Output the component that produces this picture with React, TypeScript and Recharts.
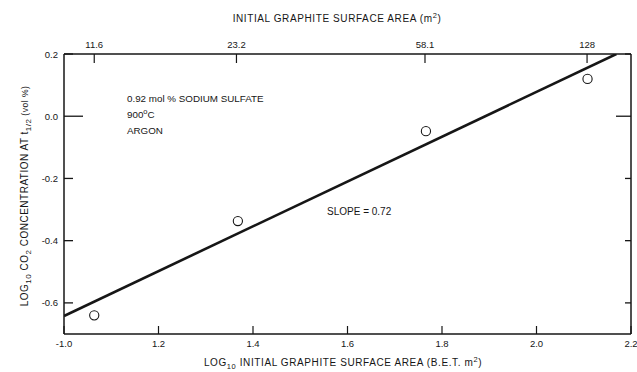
import { ComposedChart, XAxis, YAxis, Line, Scatter } from 'recharts'

// log10 of initial graphite area (x) vs log10 CO2 concentration at t1/2 (y)
const areaLogs = [1.064, 1.368, 1.766, 2.108]
const co2Logs = [-0.64, -0.337, -0.048, 0.12]

// fitted line, slope 0.72
const fitLogs = [1.0, 2.169]
const fitCo2 = [-0.642, 0.2]

const bottomTicks = [1.0, 1.2, 1.4, 1.6, 1.8, 2.0, 2.2]
const bottomLabels = ['-1.0', '1.2', '1.4', '1.6', '1.8', '2.0', '2.2']
const topTickPos = [1.064, 1.365, 1.764, 2.107]
const topLabels = ['11.6', '23.2', '58.1', '128']
const yTicks = [0.2, 0.0, -0.2, -0.4, -0.6]
const yLabels = ['0.2', '0.0', '-0.2', '-0.4', '-0.6']

const points = areaLogs.map((x, i) => ({ x, y: co2Logs[i] }))
const fit = fitLogs.map((x, i) => ({ x, y: fitCo2[i] }))

const INK = '#161616'
const FONT = '"Liberation Sans", Arial, sans-serif'

const BottomTick = ({ x, y, index }: any) => (
    <g>
        <line x1={x} x2={x} y1={y} y2={y - 8} stroke={INK} strokeWidth={1.2} />
        <text x={x} y={y + 13} textAnchor="middle" fontSize={9.5} fill={INK} fontFamily={FONT}>
            {bottomLabels[index]}
        </text>
    </g>
)

const TopTick = ({ x, y, index }: any) => (
    <g>
        <line x1={x} x2={x} y1={y} y2={y + 9} stroke={INK} strokeWidth={1.2} />
        <text x={x} y={y - 6} textAnchor="middle" fontSize={9.5} fill={INK} fontFamily={FONT}>
            {topLabels[index]}
        </text>
    </g>
)

const LeftTick = ({ x, y, index }: any) => (
    <g>
        <line x1={x} x2={x + (yTicks[index] === 0 ? 19 : 9)} y1={y} y2={y} stroke={INK} strokeWidth={1.3} />
        <text x={x - 6} y={y + 3.5} textAnchor="end" fontSize={9.5} fill={INK} fontFamily={FONT}>
            {yLabels[index]}
        </text>
    </g>
)

const RightTick = ({ x, y, index }: any) => (
    <line x1={x} x2={x - (yTicks[index] === 0 ? 15 : 6)} y1={y} y2={y} stroke={INK} strokeWidth={1.3} />
)

const circle = (props: any) => (
    <circle cx={props.cx} cy={props.cy} r={4.6} fill="#fff" stroke={INK} strokeWidth={1.1} />
)

const axisLine = { stroke: INK, strokeWidth: 1.5 }

export default function App() {
    return (
        <div style={{ position: 'absolute', left: 0, top: 0, width: 637, height: 372, background: '#fff' }}>
            <ComposedChart width={637} height={372} margin={{ top: 24, right: 0, bottom: 8, left: 14 }}>
                <XAxis
                    xAxisId="bottom"
                    dataKey="x"
                    type="number"
                    domain={[1.0, 2.2]}
                    ticks={bottomTicks}
                    allowDataOverflow
                    height={30}
                    tickSize={0}
                    tickMargin={0}
                    tickLine={false}
                    axisLine={axisLine}
                    tick={BottomTick}
                    interval={0}
                />
                <XAxis
                    xAxisId="top"
                    orientation="top"
                    dataKey="x"
                    type="number"
                    domain={[1.0, 2.2]}
                    ticks={topTickPos}
                    allowDataOverflow
                    height={30}
                    tickSize={0}
                    tickMargin={0}
                    tickLine={false}
                    axisLine={axisLine}
                    tick={TopTick}
                    interval={0}
                />
                <YAxis
                    yAxisId="left"
                    type="number"
                    domain={[-0.7, 0.2]}
                    ticks={yTicks}
                    allowDataOverflow
                    width={50}
                    tickSize={0}
                    tickMargin={0}
                    tickLine={false}
                    axisLine={axisLine}
                    tick={LeftTick}
                    interval={0}
                />
                <YAxis
                    yAxisId="right"
                    orientation="right"
                    type="number"
                    domain={[-0.7, 0.2]}
                    ticks={yTicks}
                    allowDataOverflow
                    width={6}
                    tickSize={0}
                    tickMargin={0}
                    tickLine={false}
                    axisLine={axisLine}
                    tick={RightTick}
                    interval={0}
                />
                <Line
                    xAxisId="bottom"
                    yAxisId="left"
                    data={fit}
                    dataKey="y"
                    type="linear"
                    stroke={INK}
                    strokeWidth={2.6}
                    dot={false}
                    activeDot={false}
                    isAnimationActive={false}
                />
                <Scatter
                    xAxisId="bottom"
                    yAxisId="left"
                    data={points}
                    dataKey="y"
                    shape={circle}
                    isAnimationActive={false}
                />
            </ComposedChart>
            <svg
                width={637}
                height={372}
                style={{ position: 'absolute', left: 0, top: 0, pointerEvents: 'none' }}
                fontFamily={FONT}
                fill={INK}
            >
                <text x={337} y={22} textAnchor="middle" fontSize={10} letterSpacing={0.6}>
                    INITIAL GRAPHITE SURFACE AREA (m<tspan dy={-4} fontSize={7.5}>2</tspan>
                    <tspan dy={4}>)</tspan>
                </text>
                <text x={343} y={366} textAnchor="middle" fontSize={10} letterSpacing={0.6}>
                    LOG<tspan dy={3} fontSize={7.5}>10</tspan>
                    <tspan dy={-3}> INITIAL GRAPHITE SURFACE AREA (B.E.T. m</tspan>
                    <tspan dy={-4} fontSize={7.5}>2</tspan>
                    <tspan dy={4}>)</tspan>
                </text>
                <text
                    x={0}
                    y={0}
                    transform="translate(28,196) rotate(-90)"
                    textAnchor="middle"
                    fontSize={10}
                    letterSpacing={0.5}
                >
                    LOG<tspan dy={3} fontSize={8}>10</tspan>
                    <tspan dy={-3}> CO</tspan>
                    <tspan dy={3} fontSize={8}>2</tspan>
                    <tspan dy={-3}> CONCENTRATION AT t</tspan>
                    <tspan dy={3} fontSize={8}>1/2</tspan>
                    <tspan dy={-3} fontSize={8.5}> (vol %)</tspan>
                </text>
                <text x={127} y={102} fontSize={9.8}>0.92 mol % SODIUM SULFATE</text>
                <text x={127} y={118} fontSize={9.8}>
                    900<tspan dy={-4} fontSize={7.5}>o</tspan>
                    <tspan dy={4}>C</tspan>
                </text>
                <text x={127} y={134} fontSize={9.8}>ARGON</text>
                <text x={327} y={215} fontSize={10}>SLOPE = 0.72</text>
            </svg>
        </div>
    )
}
